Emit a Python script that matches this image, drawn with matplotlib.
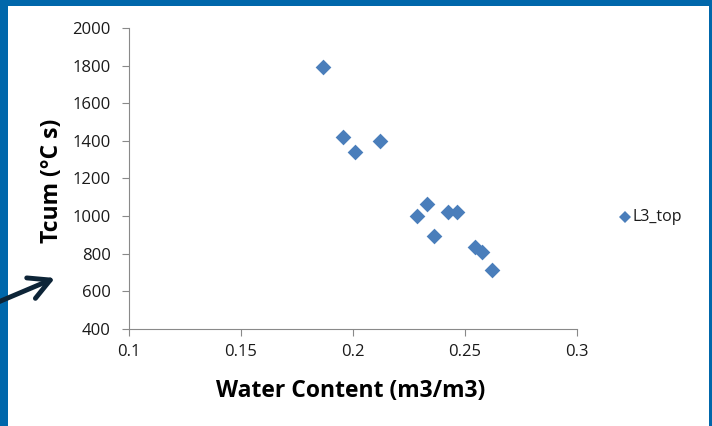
import matplotlib.pyplot as plt
import matplotlib.patches as mpatches

# water content vs cumulative temperature, L3_top sensor
water_content = [0.1866, 0.1957, 0.2009, 0.2121, 0.2284, 0.2329, 0.2363,
                 0.2423, 0.2466, 0.2545, 0.2574, 0.2622]
tcum = [1794, 1419, 1339, 1399, 1001, 1064, 894, 1024, 1024, 838, 808, 714]
series_name = 'L3_top'

xticks = [0.1, 0.15, 0.2, 0.25, 0.3]
xtick_labels = ['0.1', '0.15', '0.2', '0.25', '0.3']
yticks = [400, 600, 800, 1000, 1200, 1400, 1600, 1800, 2000]

plt.rcParams['font.family'] = ['Open Sans', 'DejaVu Sans']

W, H = 712, 426
fig = plt.figure(figsize=(W / 100, H / 100), dpi=100)
fig.patch.set_facecolor('white')

frame_blue = '#0067ab'
# slide border: top bar, left bar, thin right edge
fig.patches.append(mpatches.Rectangle((0, 1 - 6 / H), 1, 6 / H, transform=fig.transFigure,
                                      facecolor=frame_blue, edgecolor='none'))
fig.patches.append(mpatches.Rectangle((0, 0), 8 / W, 1, transform=fig.transFigure,
                                      facecolor=frame_blue, edgecolor='none'))
fig.patches.append(mpatches.Rectangle((709 / W, 0), 3 / W, 1, transform=fig.transFigure,
                                      facecolor=frame_blue, edgecolor='none'))

ax = fig.add_axes([129 / W, 97 / H, 448 / W, 301 / H])
ax.scatter(water_content, tcum, marker='D', s=64, color='#4a7ebb', linewidths=0, zorder=3)

ax.set_xlim(0.1, 0.3)
ax.set_ylim(400, 2000)
ax.set_xticks(xticks)
ax.set_xticklabels(xtick_labels)
ax.set_yticks(yticks)

for side in ['top', 'right']:
    ax.spines[side].set_visible(False)
for side in ['left', 'bottom']:
    ax.spines[side].set_color('#898989')
    ax.spines[side].set_linewidth(0.8)
ax.tick_params(axis='both', direction='out', length=5, width=0.8, color='#898989',
               labelsize=12, labelcolor='#1a1a1a')
ax.tick_params(axis='y', pad=8)
ax.tick_params(axis='x', pad=6)

label_font = dict(fontsize=16.5, fontweight='bold', color='black')
fig.text(52 / W, 1 - 181 / H, 'Tcum (°C s)', rotation=90, ha='center', va='center', **label_font)
fig.text(351 / W, 1 - 391 / H, 'Water Content (m3/m3)', ha='center', va='center', **label_font)

# legend entry drawn by hand so it sits outside the plot area
fig.lines.append(plt.Line2D([625 / W], [1 - 217 / H], transform=fig.transFigure, marker='D',
                            markersize=6, color='#4a7ebb', markeredgewidth=0))
fig.text(632 / W, 1 - 217 / H, series_name, ha='left', va='center', fontsize=11.5, color='#1a1a1a')

# pointer arrow coming in from the left edge, drawn over the border
fig.patches.append(mpatches.FancyArrowPatch((-4 / W, 1 - 303 / H), (55 / W, 1 - 278 / H),
                                            transform=fig.transFigure, shrinkA=0, shrinkB=0,
                                            arrowstyle='->,head_length=15,head_width=8',
                                            color='#0d2437', linewidth=3.5, zorder=5))

fig.savefig('out.png', dpi=100)
